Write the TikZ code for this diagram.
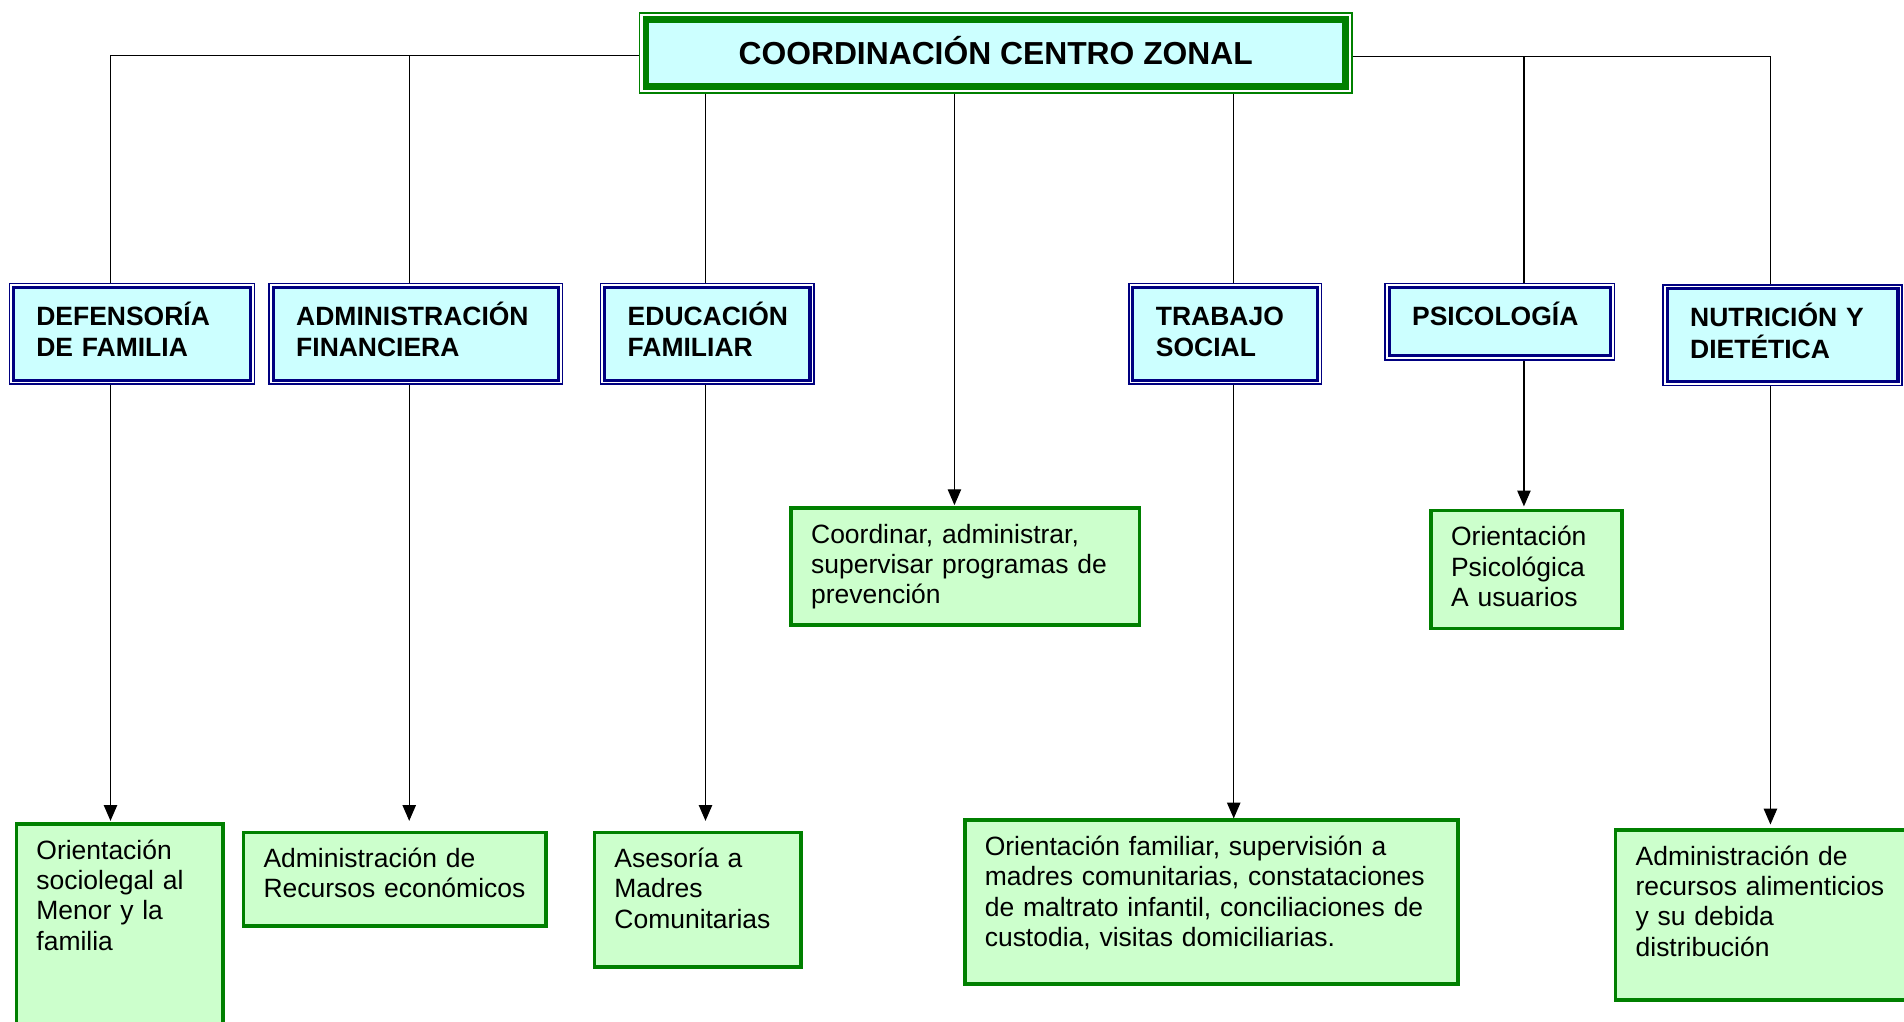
\documentclass[tikz,border=0pt]{standalone}
\usepackage{fontspec}
\setmainfont{Liberation Sans}
\usetikzlibrary{arrows.meta}
\definecolor{boxcyan}{HTML}{CCFFFF}
\definecolor{boxgreen}{HTML}{CCFFCC}
\definecolor{linegreen}{HTML}{008000}
\definecolor{linenavy}{HTML}{000080}
\tikzset{
  titlebox/.style={fill=boxcyan, draw=linegreen, line width=5.5pt, outer sep=5.95pt,
    preaction={draw=linegreen, line width=11.9pt},
    preaction={draw=white, line width=9.5pt},
    minimum width=576.1pt, minimum height=55.1pt, text height=18.8pt, text depth=0pt,
    font=\fontsize{26.2}{30}\selectfont\bfseries},
  hbox/.style={anchor=north west, fill=boxcyan, draw=linenavy, line width=2.5pt, outer sep=3.95pt,
    preaction={draw=linenavy, line width=7.9pt},
    preaction={draw=white, line width=5.5pt},
    align=left, inner xsep=19pt, inner ysep=15pt, text height=16pt,
    font=\fontsize{21.8}{26}\selectfont\bfseries},
  gbox/.style={anchor=north west, fill=boxgreen, draw=linegreen, line width=3pt, outer sep=1.5pt,
    align=left, inner xsep=16.5pt, inner ysep=12.9pt, text height=16pt,
    font=\fontsize{21.8}{25}\selectfont},
  conn/.style={draw=black, line width=1pt},
  arr/.style={conn, -{Triangle[width=11pt,length=13pt]}}
}
\begin{document}
\begin{tikzpicture}[x=1pt,y=-1pt]
  \useasboundingbox (0,0) rectangle (1568,841);
  \fill[white] (0,0) rectangle (1568,841);
  \clip (0,0) rectangle (1568,841);

  % coordination
  \node[titlebox] (title) at (820,43.5) {COORDINACIÓN CENTRO ZONAL};

  % areas
  \node[hbox, text width=157.1pt, text depth=30.1pt] (hdef) at (7,233) {DEFENSORÍA\\DE FAMILIA};
  \node[hbox, text width=197.1pt, text depth=30.1pt] (hadm) at (221,233) {ADMINISTRACIÓN\\FINANCIERA};
  \node[hbox, text width=131.1pt, text depth=30.1pt] (hedu) at (494,233) {EDUCACIÓN\\FAMILIAR};
  \node[hbox, text width=114.1pt, text depth=30.1pt] (htra) at (929,233) {TRABAJO\\SOCIAL};
  \node[hbox, text width=144.1pt, text depth=10.1pt] (hpsi) at (1140,233) {PSICOLOGÍA};
  \node[hbox, text width=152.1pt, text depth=30.1pt] (hnut) at (1369,234) {NUTRICIÓN Y\\DIETÉTICA};

  % functions
  \node[gbox, text width=137pt, text depth=155pt] (gdef) at (12,677) {Orientación\\sociolegal al\\Menor y la\\familia};
  \node[gbox, text width=216pt, text depth=35.2pt] (gadm) at (199,684) {Administración de\\Recursos económicos};
  \node[gbox, text width=137pt, text depth=69.2pt] (gedu) at (488,684) {Asesoría a\\Madres\\Comunitarias};
  \node[gbox, text width=254pt, text depth=54.2pt] (gcoo) at (650,417) {Coordinar, administrar,\\supervisar programas de\\prevención};
  \node[gbox, text width=373pt, text depth=93.2pt] (gtra) at (793,674) {Orientación familiar, supervisión a\\madres comunitarias, constataciones\\de maltrato infantil, conciliaciones de\\custodia, visitas domiciliarias.};
  \node[gbox, text width=124pt, text depth=55.2pt] (gpsi) at (1177,419) {Orientación\\Psicológica\\A usuarios};
  \node[gbox, text width=224pt, text depth=98.2pt] (gnut) at (1329,682) {Administración de\\recursos alimenticios\\y su debida\\distribución};

  % drop points
  \coordinate (bdef) at (91,45.7);
  \coordinate (badm) at (337,45.7);
  \coordinate (bedu) at (581,0);
  \coordinate (bcoo) at (786,0);
  \coordinate (btra) at (1016,0);
  \coordinate (bpsi) at (1255,46.5);
  \coordinate (bnut) at (1458,46.5);

  % bus lines
  \draw[conn] (bdef) -- (badm) -- (badm -| title.west);
  \draw[conn] (title.east |- bpsi) -- (bpsi) -- (bnut);
  \draw[conn] (bdef) -- (bdef |- hdef.north);
  \draw[conn] (badm) -- (badm |- hadm.north);
  \draw[conn] (bpsi) -- (bpsi |- hpsi.north);
  \draw[conn] (bnut) -- (bnut |- hnut.north);
  \draw[conn] (bedu |- title.south) -- (bedu |- hedu.north);
  \draw[conn] (btra |- title.south) -- (btra |- htra.north);
  \draw[arr, shorten >=1pt] (bcoo |- title.south) -- (bcoo |- gcoo.north);

  % arrows to functions
  \foreach \b/\h/\g/\s in {bdef/hdef/gdef/1, badm/hadm/gadm/8, bedu/hedu/gedu/8,
      btra/htra/gtra/0, bpsi/hpsi/gpsi/2, bnut/hnut/gnut/3}
    \draw[arr, shorten >=\s pt] (\b |- \h.south) -- (\b |- \g.north);
\end{tikzpicture}
\end{document}
